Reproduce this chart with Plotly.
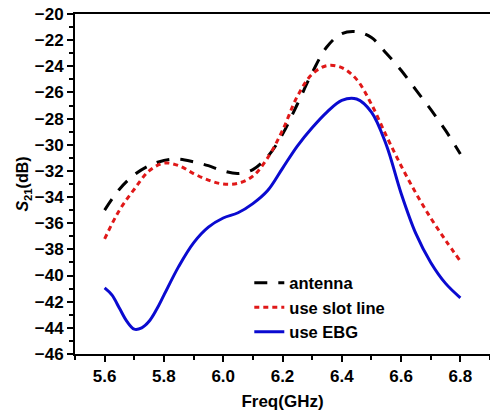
import plotly.graph_objects as go

freq = [5.60, 5.65, 5.70, 5.75, 5.80, 5.85, 5.90, 5.95, 6.00, 6.05, 6.10, 6.15, 6.20,
        6.25, 6.30, 6.35, 6.40, 6.45, 6.50, 6.55, 6.60, 6.65, 6.70, 6.75, 6.80]

antenna = [-35.0, -33.4, -32.3, -31.6, -31.2, -31.1, -31.3, -31.6, -32.0, -32.2, -31.9, -30.9, -29.2,
           -26.9, -24.5, -22.5, -21.5, -21.35, -21.8, -23.0, -24.3, -25.8, -27.3, -28.9, -30.7]

slot_line = [-37.2, -35.0, -33.4, -32.0, -31.4, -31.6, -32.2, -32.7, -33.0, -32.95, -32.4, -31.0, -28.9,
             -26.3, -24.6, -23.95, -24.1, -25.0, -26.9, -29.3, -31.6, -33.7, -35.6, -37.3, -38.9]

ebg_freq = [5.600, 5.625, 5.650, 5.675, 5.700, 5.725, 5.750, 5.775, 5.800, 5.850, 5.900, 5.950,
            6.00, 6.05, 6.10, 6.15, 6.20, 6.25, 6.30, 6.35, 6.40, 6.45, 6.50, 6.55, 6.60,
            6.65, 6.70, 6.75, 6.80]

ebg = [-40.95, -41.5, -42.5, -43.5, -44.1, -44.0, -43.5, -42.6, -41.5, -39.3, -37.5, -36.3,
       -35.6, -35.2, -34.5, -33.5, -31.8, -30.1, -28.7, -27.5, -26.6, -26.5, -27.5, -30.0, -33.7,
       -36.8, -39.0, -40.6, -41.7]

x_ticks = [5.6, 5.8, 6.0, 6.2, 6.4, 6.6, 6.8]
y_ticks = list(range(-46, -19, 2))

FONT = "Liberation Sans, Arial, sans-serif"

fig = go.Figure()
fig.add_trace(go.Scatter(x=freq, y=antenna, mode="lines", name="antenna",
                         line=dict(color="black", width=3, dash="13px,11px", shape="spline")))
fig.add_trace(go.Scatter(x=freq, y=slot_line, mode="lines", name="use slot line",
                         line=dict(color="#e01818", width=3, dash="5px,4px", shape="spline")))
fig.add_trace(go.Scatter(x=ebg_freq, y=ebg, mode="lines", name="use EBG",
                         line=dict(color="#0a0ad0", width=3, shape="spline")))

fig.update_layout(
    width=490, height=414,
    margin=dict(l=75, r=0, t=14, b=60),
    paper_bgcolor="white", plot_bgcolor="white",
    font=dict(family=FONT, color="black", size=16, weight=700),
    showlegend=True,
    legend=dict(x=0.42, y=0.26, xanchor="left", yanchor="top",
                bgcolor="rgba(0,0,0,0)", font=dict(size=16.5, weight=700),
                tracegroupgap=0, itemwidth=30),
)
fig.update_xaxes(
    range=[5.5, 6.9], tickvals=x_ticks, ticktext=[f"{v:.1f}" for v in x_ticks],
    ticks="outside", ticklen=6, tickwidth=2, tickcolor="black",
    minor=dict(dtick=0.1, tick0=5.5, ticks="outside", ticklen=4, tickwidth=1.5, tickcolor="black"),
    showline=True, linecolor="black", linewidth=2, mirror=True,
    showgrid=False, zeroline=False,
    tickfont=dict(size=17, weight=700),
    title=dict(text="Freq(GHz)", font=dict(size=17, weight=700), standoff=10),
)
fig.update_yaxes(
    range=[-46, -20], tickvals=y_ticks, ticks="outside", ticklen=6, tickwidth=2, tickcolor="black",
    minor=dict(dtick=1, tick0=-46, ticks="outside", ticklen=4, tickwidth=1.5, tickcolor="black"),
    showline=True, linecolor="black", linewidth=2, mirror=False,
    showgrid=False, zeroline=False,
    tickfont=dict(size=17, weight=700),
    title=dict(text="<i>S</i><sub>21</sub>(dB)", font=dict(size=16, weight=700), standoff=2),
)

fig.write_html("out.html")
